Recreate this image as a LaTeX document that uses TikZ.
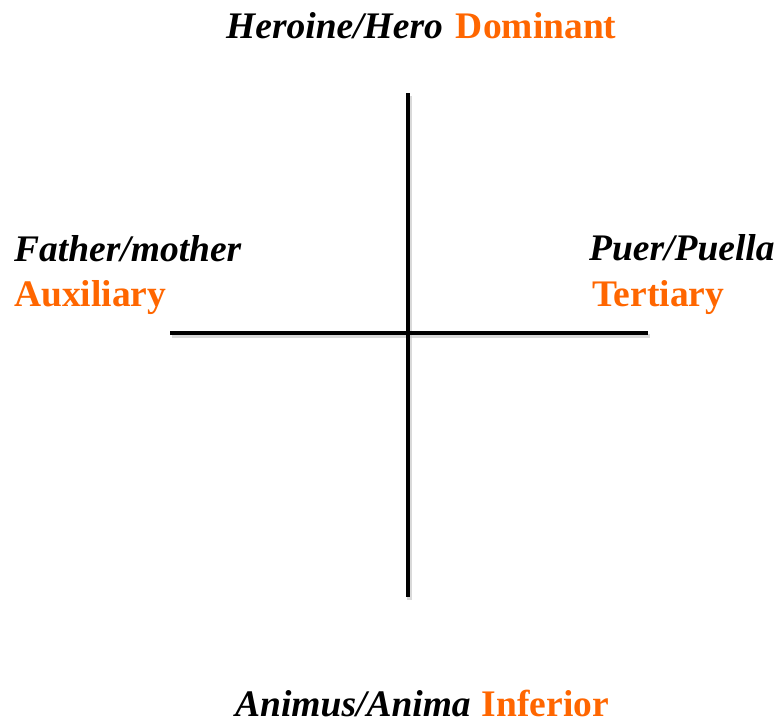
\documentclass[tikz,border=0pt]{standalone}
\usepackage{fontspec}
\setmainfont{Liberation Serif}
\usepackage{xcolor}
\definecolor{typeorange}{RGB}{255,102,0}
\newcommand{\role}[1]{\textit{#1}}
\newcommand{\func}[1]{\textcolor{typeorange}{#1}}

\begin{document}
\begin{tikzpicture}[x=1pt, y=-1pt, font=\fontsize{37.5pt}{42pt}\selectfont\bfseries,
    every node/.style={anchor=base west, inner sep=0pt},
    axis/.style={line width=4.5pt, black},
    axisshadow/.style={line width=4.5pt, black!25, opacity=0.6}]
    \useasboundingbox (0, 0) rectangle (780, 723);

    \coordinate (north) at (408, 93);
    \coordinate (south) at (408, 597);
    \coordinate (west) at (170, 333);
    \coordinate (east) at (648, 333);

    \node (hero) at (226, 38) {\role{Heroine/Hero}\hspace{0.35em}\func{Dominant}};
    \node (father) at (14, 261) {\role{Father/mother}};
    \node (auxiliary) at (14, 306) {\func{Auxiliary}};
    \node (puer) at (589, 260) {\role{Puer/Puella}};
    \node (tertiary) at (592, 306) {\func{Tertiary}};
    \node (anima) at (235, 716) {\role{Animus/Anima}\hspace{0.3em}\func{Inferior}};

    % soft shadow under the axes
    \draw[axisshadow] ([shift={(1.5, 3)}]west) -- ([shift={(1.5, 3)}]east);
    \draw[axisshadow] ([shift={(1.5, 3)}]north) -- ([shift={(1.5, 3)}]south);

    \draw[axis] (west) -- (east);
    \draw[axis] (north) -- (south);
\end{tikzpicture}
\end{document}
